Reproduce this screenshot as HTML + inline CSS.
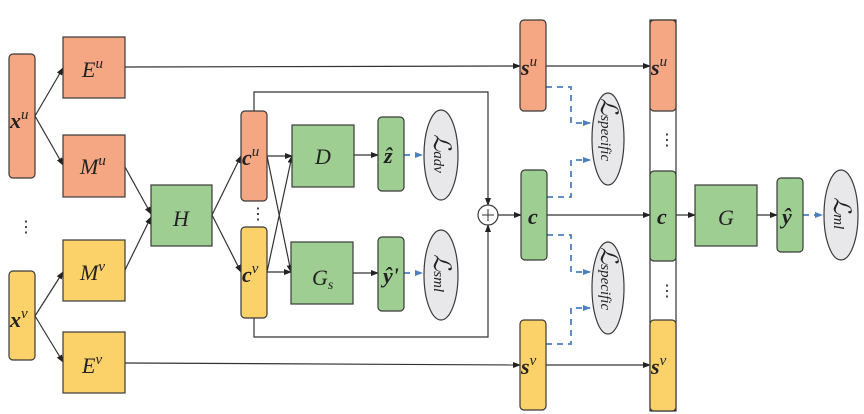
<!DOCTYPE html>
<html><head><meta charset="utf-8"><style>
html,body{margin:0;padding:0;background:#fff}
svg{display:block}
text{font-family:"Liberation Serif",serif;font-style:italic;fill:#222}
.b{font-weight:bold}
</style></head><body>
<svg width="864" height="414" viewBox="0 0 864 414" xmlns="http://www.w3.org/2000/svg">
<defs>
<marker id="a" markerWidth="8" markerHeight="8" refX="7" refY="4" orient="auto" markerUnits="userSpaceOnUse"><path d="M0,1 L8,4 L0,7 z" fill="#222"/></marker>
<marker id="d" markerWidth="8" markerHeight="8" refX="7" refY="4" orient="auto" markerUnits="userSpaceOnUse"><path d="M0,1 L8,4 L0,7 z" fill="#4f7fbf"/></marker>
</defs>
<g stroke="#333" stroke-width="1.2" fill="none">
<path d="M35,116 L63,68" marker-end="url(#a)"/>
<path d="M35,116 L63,165" marker-end="url(#a)"/>
<path d="M35,316 L63,272" marker-end="url(#a)"/>
<path d="M35,316 L63,362" marker-end="url(#a)"/>
<path d="M125,167 L151,214" marker-end="url(#a)"/>
<path d="M125,270 L151,217" marker-end="url(#a)"/>
<path d="M212,215 L241,156" marker-end="url(#a)"/>
<path d="M212,215 L241,272" marker-end="url(#a)"/>
<path d="M267,156 L292,156" marker-end="url(#a)"/>
<path d="M267,156 L291,272" marker-end="url(#a)"/>
<path d="M267,272 L291,272" marker-end="url(#a)"/>
<path d="M267,272 L292,156" marker-end="url(#a)"/>
<path d="M354,155 L378,155" marker-end="url(#a)"/>
<path d="M353,273 L378,273" marker-end="url(#a)"/>
<path d="M125,67 L520,66" marker-end="url(#a)"/>
<path d="M125,363 L520,365" marker-end="url(#a)"/>
<path d="M254,111 L254,92 L488,92 L488,205" marker-end="url(#a)"/>
<path d="M254,318 L254,337 L488,337 L488,225" marker-end="url(#a)"/>
<path d="M498,215 L521,215" marker-end="url(#a)"/>
<path d="M546,66 L650,66" marker-end="url(#a)"/>
<path d="M547,215 L650,215" marker-end="url(#a)"/>
<path d="M546,365 L650,365" marker-end="url(#a)"/>
<path d="M676,215 L695,215" marker-end="url(#a)"/>
<path d="M757,215 L777,215" marker-end="url(#a)"/>
</g>
<g stroke="#4f7fbf" stroke-width="1.8" fill="none" stroke-dasharray="6,5">
<path d="M404,155 L422,155" marker-end="url(#d)"/>
<path d="M404,273 L422,273" marker-end="url(#d)"/>
<path d="M803,215 L822,215" marker-end="url(#d)"/>
<path d="M546,87 L571,87 L571,123 L590,123" marker-end="url(#d)"/>
<path d="M547,197 L571,197 L571,160 L590,160" marker-end="url(#d)"/>
<path d="M547,235 L571,235 L571,272 L590,272" marker-end="url(#d)"/>
<path d="M546,344 L571,344 L571,308 L590,308" marker-end="url(#d)"/>
</g>
<rect x="650" y="20" width="26" height="391" fill="#fff" stroke="#333" stroke-width="1.2"/>
<g stroke="#3a3a3a" stroke-width="1.2">
<rect x="9" y="54" width="26" height="124" rx="4" fill="#F5A683"/>
<rect x="9" y="271" width="26" height="89" rx="4" fill="#FBD26A"/>
<rect x="63" y="37" width="62" height="61" fill="#F5A683"/>
<rect x="63" y="135" width="62" height="62" fill="#F5A683"/>
<rect x="63" y="240" width="62" height="61" fill="#FBD26A"/>
<rect x="63" y="332" width="62" height="61" fill="#FBD26A"/>
<rect x="151" y="185" width="61" height="61" fill="#9FCE92"/>
<rect x="241" y="111" width="26" height="90" rx="4" fill="#F5A683"/>
<rect x="241" y="227" width="26" height="91" rx="4" fill="#FBD26A"/>
<rect x="292" y="125" width="62" height="62" fill="#9FCE92"/>
<rect x="291" y="242" width="62" height="62" fill="#9FCE92"/>
<rect x="378" y="117" width="26" height="74" rx="4" fill="#9FCE92"/>
<rect x="378" y="237" width="26" height="74" rx="4" fill="#9FCE92"/>
<ellipse cx="441" cy="155" rx="17" ry="45" fill="#E8E8EA"/>
<ellipse cx="441" cy="275" rx="17" ry="45" fill="#E8E8EA"/>
<circle cx="488" cy="215" r="10" fill="#fff"/>
<rect x="520" y="20" width="26" height="91" rx="4" fill="#F5A683"/>
<rect x="521" y="170" width="26" height="90" rx="4" fill="#9FCE92"/>
<rect x="520" y="320" width="26" height="90" rx="4" fill="#FBD26A"/>
<ellipse cx="608" cy="139" rx="16" ry="46" fill="#E8E8EA"/>
<ellipse cx="608" cy="288" rx="16" ry="46" fill="#E8E8EA"/>
<rect x="650" y="20" width="26" height="91" rx="4" fill="#F5A683"/>
<rect x="650" y="171" width="26" height="90" rx="4" fill="#9FCE92"/>
<rect x="650" y="320" width="26" height="91" rx="4" fill="#FBD26A"/>
<rect x="695" y="185" width="62" height="61" fill="#9FCE92"/>
<rect x="777" y="178" width="26" height="74" rx="4" fill="#9FCE92"/>
<ellipse cx="841" cy="215" rx="17" ry="45" fill="#E8E8EA"/>
</g>
<path d="M482,215 L494,215 M488,209 L488,221" stroke="#333" stroke-width="1"/>
<g font-size="22">
<text x="10" y="128" class="b">x<tspan font-size="15" dy="-9" font-weight="normal">u</tspan></text>
<text x="10" y="327" class="b">x<tspan font-size="15" dy="-9" font-weight="normal">v</tspan></text>
<text x="82" y="77">E<tspan font-size="15" dy="-9">u</tspan></text>
<text x="80" y="174">M<tspan font-size="15" dy="-9">u</tspan></text>
<text x="80" y="280">M<tspan font-size="15" dy="-9">v</tspan></text>
<text x="82" y="373">E<tspan font-size="15" dy="-9">v</tspan></text>
<text x="173" y="226">H</text>
<text x="242" y="165" class="b">c<tspan font-size="15" dy="-9" font-weight="normal">u</tspan></text>
<text x="242" y="282" class="b">c<tspan font-size="15" dy="-9" font-weight="normal">v</tspan></text>
<text x="315" y="164">D</text>
<text x="312" y="285">G<tspan font-size="14" dy="4">s</tspan></text>
<text x="384" y="163" class="b">ẑ</text>
<text x="383" y="283" class="b">ŷ'</text>
<text x="521" y="75" class="b">s<tspan font-size="15" dy="-9" font-weight="normal">u</tspan></text>
<text x="528" y="224" class="b">c</text>
<text x="521" y="374" class="b">s<tspan font-size="15" dy="-9" font-weight="normal">v</tspan></text>
<text x="651" y="75" class="b">s<tspan font-size="15" dy="-9" font-weight="normal">u</tspan></text>
<text x="657" y="224" class="b">c</text>
<text x="651" y="374" class="b">s<tspan font-size="15" dy="-9" font-weight="normal">v</tspan></text>
<text x="718" y="225">G</text>
<text x="782" y="224" class="b">ŷ</text>
</g>
<g font-size="24">
<text transform="translate(434,134) rotate(90)">ℒ<tspan font-size="15">adv</tspan></text>
<text transform="translate(434,254) rotate(90)">ℒ<tspan font-size="15">sml</tspan></text>
<text transform="translate(601,98) rotate(90)">ℒ<tspan font-size="15">specific</tspan></text>
<text transform="translate(601,247) rotate(90)">ℒ<tspan font-size="15">specific</tspan></text>
<text transform="translate(834,197) rotate(90)">ℒ<tspan font-size="15">ml</tspan></text>
</g>
<g font-size="16" fill="#333">
<text x="18" y="232" style="font-style:normal">⋮</text>
<text x="250" y="219" style="font-style:normal">⋮</text>
<text x="659" y="145" style="font-style:normal">⋮</text>
<text x="659" y="296" style="font-style:normal">⋮</text>
</g>
</svg>
</body></html>
